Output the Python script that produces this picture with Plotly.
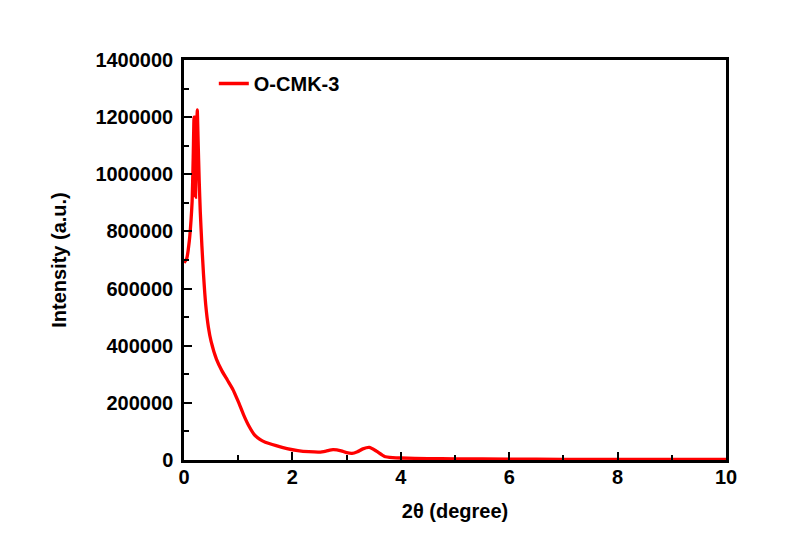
import plotly.graph_objects as go

two_theta = [0, 0.05, 0.1, 0.13, 0.15, 0.17, 0.185, 0.2, 0.213, 0.23, 0.245, 0.26, 0.28,
             0.3, 0.33, 0.36, 0.4, 0.45, 0.5, 0.6, 0.7, 0.8, 0.9, 1.0, 1.1, 1.2, 1.3,
             1.4, 1.5, 1.7, 1.9, 2.1, 2.3, 2.5, 2.62, 2.75, 2.9, 3.0, 3.1, 3.2, 3.3,
             3.42, 3.55, 3.7, 3.85, 4.0, 4.5, 5, 6, 7, 8, 9, 10]
intensity = [690000, 705000, 770000, 840000, 905000, 1060000, 1200000, 1010000, 920000,
             1100000, 1225000, 1120000, 980000, 870000, 750000, 650000, 545000, 465000,
             415000, 352000, 312000, 280000, 248000, 205000, 158000, 118000, 88000,
             72000, 62000, 50000, 40000, 33000, 29000, 27500, 31000, 36000, 32000,
             25500, 23000, 29000, 39000, 44000, 31000, 12500, 8500, 7000, 5000, 4000,
             3000, 2500, 2200, 2000, 2000]
series_name = "O-CMK-3"

font_family = "Liberation Sans, Arial, sans-serif"
bold20 = dict(family=font_family, size=20, color="black", weight="bold")

fig = go.Figure()
fig.add_trace(go.Scatter(
    x=two_theta, y=intensity, mode="lines", name=series_name,
    line=dict(color="#ff0000", width=3.3, shape="spline", smoothing=0.5),
))

axis_common = dict(
    showline=True, linecolor="black", linewidth=2.5, mirror=True,
    ticks="inside", ticklen=8, tickwidth=2, tickcolor="black",
    showgrid=False, zeroline=False,
    tickfont=bold20,
)

fig.update_layout(
    width=789, height=553,
    margin=dict(l=184, r=63, t=60, b=93),
    paper_bgcolor="white", plot_bgcolor="white",
    showlegend=True,
    legend=dict(x=0.055, y=0.99, xanchor="left", yanchor="top",
                bgcolor="rgba(0,0,0,0)", font=bold20),
    xaxis=dict(range=[0, 10], dtick=2, tick0=0,
               minor=dict(ticks="inside", ticklen=5, tickwidth=2, dtick=1, tickcolor="black"),
               ticklabelstandoff=-3,
               title=dict(text="2θ (degree)", standoff=18, font=bold20),
               **axis_common),
    yaxis=dict(range=[0, 1400000], dtick=200000, tick0=0, tickformat="d",
               minor=dict(ticks="inside", ticklen=5, tickwidth=2, dtick=100000, tickcolor="black"),
               ticklabelstandoff=4,
               title=dict(text="Intensity (a.u.)", standoff=24, font=bold20),
               **axis_common),
)

fig.write_html("out.html")
